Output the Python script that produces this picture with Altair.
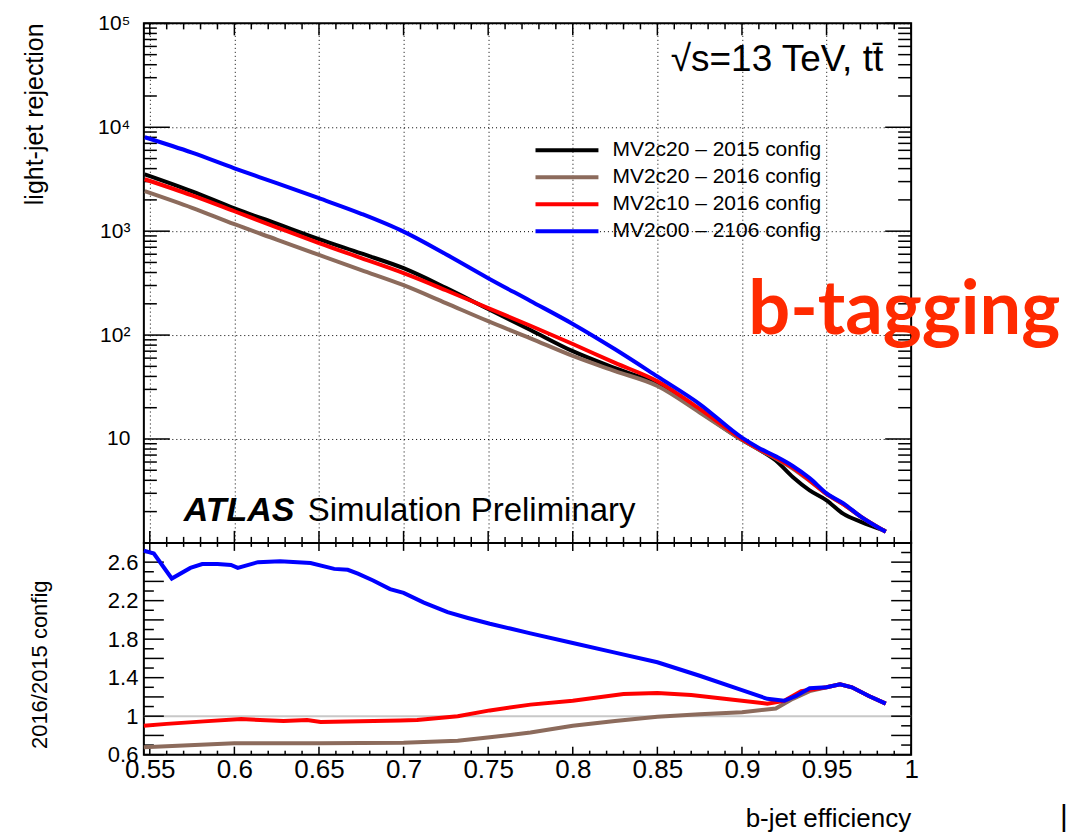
import altair as alt
import pandas as pd

FONT = "Liberation Sans"

# ---------------- data ----------------
series_top = ["MV2c20 \u2013 2015 config", "MV2c20 \u2013 2016 config",
              "MV2c10 \u2013 2016 config", "MV2c00 \u2013 2106 config"]
colors_top = ["#000000", "#8c6b5c", "#ff0000", "#0000ff"]

eff_top = [0.547, 0.575, 0.6, 0.625, 0.65, 0.675, 0.7, 0.725, 0.75, 0.775, 0.8,
           0.825, 0.85, 0.875, 0.9, 0.91, 0.92, 0.93, 0.94, 0.95, 0.96, 0.97, 0.985]
rej_black = [3530, 2420, 1660, 1180, 838, 610, 440, 285, 178, 112, 70, 48, 33.8,
             18.5, 9.8, 7.9, 6.2, 4.3, 3.2, 2.57, 1.9, 1.6, 1.3]
rej_brown = [2430, 1680, 1166, 830, 590, 422, 302, 203, 136, 93, 63, 45, 32.4,
             18, 9.8, 7.9, 6.5, 5.2, 3.95, 2.95, 2.35, 1.8, 1.28]
rej_red = [3160, 2210, 1555, 1090, 767, 550, 394, 270, 182, 123, 82, 54, 36,
           19.5, 10, 8, 6.6, 5.3, 4.0, 2.96, 2.35, 1.8, 1.28]
rej_blue = [8020, 5700, 4030, 2900, 2075, 1470, 990, 600, 353, 213, 128, 73, 40,
            21.7, 10.3, 8.2, 6.8, 5.5, 4.2, 3.0, 2.4, 1.8, 1.28]

eff_ratio_blue = [0.5465, 0.5524, 0.563, 0.574, 0.581, 0.59, 0.598, 0.602, 0.614,
                  0.627, 0.645, 0.659, 0.667, 0.673, 0.682, 0.692, 0.7, 0.712,
                  0.726, 0.738, 0.751, 0.763, 0.775, 0.8, 0.825, 0.85, 0.875,
                  0.9, 0.915, 0.925, 0.932, 0.94, 0.95, 0.958, 0.965, 0.975, 0.985]
ratio_blue = [2.72, 2.69, 2.43, 2.54, 2.58, 2.58, 2.57, 2.54, 2.60, 2.61, 2.59,
              2.53, 2.52, 2.48, 2.41, 2.32, 2.28, 2.18, 2.08, 2.02, 1.96, 1.91,
              1.86, 1.76, 1.66, 1.56, 1.42, 1.27, 1.18, 1.16, 1.21, 1.29, 1.30,
              1.33, 1.30, 1.21, 1.13]
eff_ratio_red = [0.5465, 0.56, 0.582, 0.604, 0.629, 0.643, 0.651, 0.698, 0.708,
                 0.732, 0.751, 0.775, 0.8, 0.83, 0.85, 0.87, 0.9, 0.915, 0.925,
                 0.935, 0.95, 0.958, 0.965, 0.975, 0.985]
ratio_red = [0.90, 0.92, 0.946, 0.97, 0.95, 0.96, 0.94, 0.955, 0.96, 1.0, 1.06,
             1.12, 1.16, 1.23, 1.24, 1.22, 1.16, 1.13, 1.16, 1.26, 1.30, 1.33,
             1.30, 1.21, 1.13]
eff_ratio_brown = [0.5465, 0.6, 0.65, 0.7, 0.732, 0.751, 0.775, 0.8, 0.825, 0.85,
                   0.875, 0.9, 0.92, 0.93, 0.94, 0.95, 0.958, 0.965, 0.975, 0.985]
ratio_brown = [0.676, 0.72, 0.72, 0.725, 0.745, 0.78, 0.83, 0.9, 0.95, 0.995,
               1.02, 1.04, 1.08, 1.18, 1.26, 1.30, 1.33, 1.30, 1.21, 1.13]

x_label_vals = [0.55, 0.6, 0.65, 0.7, 0.75, 0.8, 0.85, 0.9, 0.95, 1.0]
x_grid_vals = [0.55, 0.6, 0.65, 0.7, 0.75, 0.8, 0.85, 0.9, 0.95]
y_top_vals = [10, 100, 1000, 10000, 100000]
y_top_labels = ["10", "10\u00b2", "10\u00b3", "10\u2074", "10\u2075"]
y_bot_vals = [0.6, 1.0, 1.4, 1.8, 2.2, 2.6]

# ---------------- geometry ----------------
W, H1, H2 = 768, 520, 212

x_scale = alt.Scale(domain=[0.5465, 1.0], nice=False, zero=False)
y_top_scale = alt.Scale(type="log", domain=[1, 100000], nice=False)
y_bot_scale = alt.Scale(domain=[0.6, 2.8], nice=False, zero=False)

label_expr = " : ".join(
    f"datum.value == {v} ? '{l}'" for v, l in zip(y_top_vals[:-1], y_top_labels[:-1])
) + f" : '{y_top_labels[-1]}'"

x_top_axis = alt.Axis(values=x_grid_vals, labels=False, ticks=False, domain=False,
                      grid=True, gridDash=[1, 3], gridColor="black", gridWidth=1,
                      gridOpacity=1, title=None)
y_top_axis = alt.Axis(values=y_top_vals, labelExpr=label_expr, labelFont=FONT,
                      labelFontSize=21, labelColor="black", labelPadding=14,
                      ticks=False, domain=False, grid=True, gridDash=[1, 3],
                      gridColor="black", gridWidth=1, gridOpacity=1, title=None)
x_bot_axis = alt.Axis(values=x_label_vals, format="~g", labelFont=FONT,
                      labelFontSize=26, labelColor="black", labelPadding=2,
                      labelOverlap=False, labelFlush=False, ticks=False,
                      domain=False, grid=False, title=None)
y_bot_axis = alt.Axis(values=y_bot_vals, format="~g", labelFont=FONT,
                      labelFontSize=22, labelColor="black", labelPadding=6,
                      labelOverlap=False, ticks=False, domain=False, grid=False,
                      title=None)

# tick lists
x_major = [round(0.55 + 0.05 * i, 2) for i in range(10)]
x_minor = [round(0.55 + 0.01 * i, 2) for i in range(46) if i % 5 != 0]
y_top_major = [10, 100, 1000, 10000, 100000]
y_top_minor = [m * 10 ** k for k in range(0, 5) for m in range(2, 10)]
y_bot_major = [round(0.6 + 0.2 * i, 1) for i in range(12)]
y_bot_minor = [round(0.7 + 0.2 * i, 1) for i in range(11)]


def hticks(vals, yscale, yaxis, x0, x1):
    return alt.Chart(pd.DataFrame({"v": vals})).mark_rule(
        color="black", strokeWidth=1.5).encode(
        y=alt.Y("v:Q", scale=yscale, axis=yaxis),
        x=alt.value(x0), x2=alt.value(x1))


def vticks(vals, xaxis, y0, y1):
    return alt.Chart(pd.DataFrame({"v": vals})).mark_rule(
        color="black", strokeWidth=1.5).encode(
        x=alt.X("v:Q", scale=x_scale, axis=xaxis),
        y=alt.value(y0), y2=alt.value(y1))


def text(s, x, y, size, font=FONT, color="black", **kw):
    return alt.Chart(pd.DataFrame({"t": [s]})).mark_text(
        font=font, fontSize=size, color=color, **kw).encode(
        x=alt.value(x), y=alt.value(y), text="t:N")


# ---------------- top panel ----------------
rows = []
for name, vals in zip(series_top, [rej_black, rej_brown, rej_red, rej_blue]):
    for e, v in zip(eff_top, vals):
        rows.append({"series": name, "eff": e, "rej": v})
df_top = pd.DataFrame(rows)

top_layers = [
    hticks(y_top_major, y_top_scale, y_top_axis, 0, 26),
    hticks(y_top_minor, y_top_scale, y_top_axis, 0, 13),
    hticks(y_top_major, y_top_scale, y_top_axis, W, W - 26),
    hticks(y_top_minor, y_top_scale, y_top_axis, W, W - 13),
    vticks(x_major, x_top_axis, H1, H1 - 12),
    vticks(x_minor, x_top_axis, H1, H1 - 6),
    vticks(x_major, x_top_axis, 0, 12),
    vticks(x_minor, x_top_axis, 0, 6),
]
for name, col in zip(series_top, colors_top):
    top_layers.append(
        alt.Chart(df_top).transform_filter(alt.datum.series == name)
        .mark_line(color=col, strokeWidth=4, interpolate="monotone")
        .encode(x=alt.X("eff:Q", scale=x_scale, axis=x_top_axis),
                y=alt.Y("rej:Q", scale=y_top_scale, axis=y_top_axis))
    )

# legend
leg_rows = [127, 154, 181, 208]
for name, col, yy in zip(series_top, colors_top, leg_rows):
    top_layers.append(
        alt.Chart(pd.DataFrame({"t": [name]})).mark_rule(color=col, strokeWidth=4)
        .encode(x=alt.value(392), x2=alt.value(455), y=alt.value(yy)))
    top_layers.append(text(name, 469, yy, 21, align="left", baseline="middle"))

top_layers += [
    text("ATLAS", 40, 498, 34, align="left", baseline="alphabetic",
         fontWeight="bold", fontStyle="italic"),
    text("Simulation Preliminary", 164, 498, 33, align="left", baseline="alphabetic"),
    text("\u221as=13 TeV, tt\u0304", 740, 48, 37, align="right", baseline="alphabetic"),
    text("b-tagging", 605, 311, 74, font="Lato", color="#ff2a00", align="left",
         baseline="alphabetic", fontWeight="bold"),
    text("light-jet rejection", -101, 0, 25, angle=270, align="right",
         baseline="alphabetic"),
]

top = alt.layer(*top_layers).properties(width=W, height=H1)

# ---------------- bottom panel ----------------
rows = []
for name, ee, vv in [("brown", eff_ratio_brown, ratio_brown),
                     ("red", eff_ratio_red, ratio_red),
                     ("blue", eff_ratio_blue, ratio_blue)]:
    for e, v in zip(ee, vv):
        rows.append({"series": name, "eff": e, "ratio": v})
df_bot = pd.DataFrame(rows)

bot_layers = [
    alt.Chart(pd.DataFrame({"r": [1.0]})).mark_rule(color="#c8c8c8", strokeWidth=2)
    .encode(y=alt.Y("r:Q", scale=y_bot_scale, axis=y_bot_axis)),
    hticks(y_bot_major, y_bot_scale, y_bot_axis, 0, 20),
    hticks(y_bot_minor, y_bot_scale, y_bot_axis, 0, 10),
    hticks(y_bot_major, y_bot_scale, y_bot_axis, W, W - 20),
    hticks(y_bot_minor, y_bot_scale, y_bot_axis, W, W - 10),
    vticks(x_major, x_bot_axis, H2, H2 - 8),
    vticks(x_minor, x_bot_axis, H2, H2 - 4),
    vticks(x_major, x_bot_axis, 0, 8),
    vticks(x_minor, x_bot_axis, 0, 4),
]
for name, col in [("brown", colors_top[1]), ("red", colors_top[2]), ("blue", colors_top[3])]:
    bot_layers.append(
        alt.Chart(df_bot).transform_filter(alt.datum.series == name)
        .mark_line(color=col, strokeWidth=4)
        .encode(x=alt.X("eff:Q", scale=x_scale, axis=x_bot_axis),
                y=alt.Y("ratio:Q", scale=y_bot_scale, axis=y_bot_axis))
    )
bot_layers += [
    text("2016/2015 config", -97, 122, 22, angle=270, align="center",
         baseline="alphabetic"),
    text("b-jet efficiency", W, 284, 26, align="right", baseline="alphabetic"),
    text("|", 921, 283, 30, align="center", baseline="alphabetic"),
]

bottom = alt.layer(*bot_layers).properties(width=W, height=H2)

chart = (
    alt.vconcat(top, bottom, spacing=0, bounds="flush")
    .properties(padding={"left": 22, "top": 11, "right": 2, "bottom": 2},
                background="white")
    .configure_view(stroke="black", strokeWidth=2)
)

chart.save("out.html", embed_options={"renderer": "svg", "actions": False})
